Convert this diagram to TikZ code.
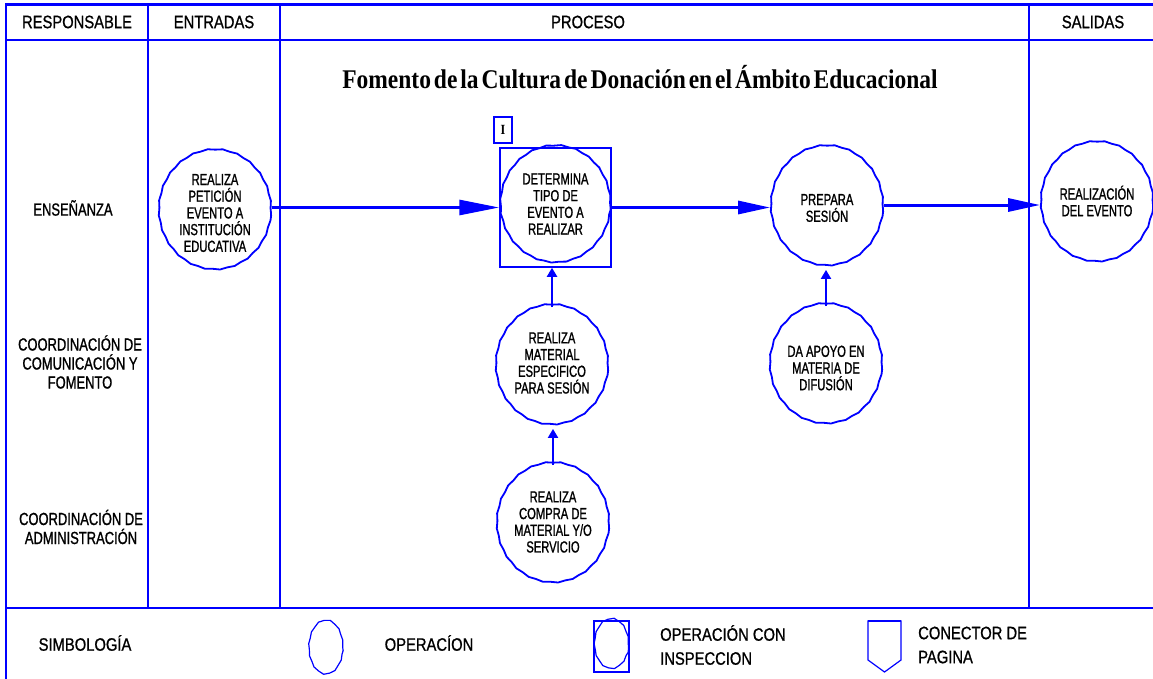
\documentclass[tikz,border=0pt]{standalone}
\usepackage{fontspec}
\setmainfont{Liberation Sans}
\newfontfamily\hdrfont[FakeStretch=0.82,FakeBold=0.9]{Liberation Sans}
\newfontfamily\lanefont[FakeStretch=0.74,FakeBold=1.1]{Liberation Sans}
\newfontfamily\opfont[FakeStretch=0.70,FakeBold=1.1]{Liberation Sans}
\newfontfamily\titlefont[FakeStretch=0.87,WordSpace=0.5]{Liberation Serif}
\usetikzlibrary{shapes.geometric,arrows.meta,decorations.pathmorphing}
\definecolor{lineblue}{RGB}{0,0,255}

\begin{document}
\begin{tikzpicture}[x=1pt,y=-1pt,
  frameline/.style={draw=lineblue, line width=2.2pt},
  colline/.style={draw=lineblue, line width=1.6pt},
  opnode/.style={ellipse, draw=lineblue, line width=1.8pt, minimum width=112pt,
    minimum height=120pt, inner sep=0pt, decorate,
    decoration={snake, segment length=15pt, amplitude=0.45pt}},
  optext/.style={align=center, inner sep=0pt,
    font=\opfont\fontsize{16}{16.7}\selectfont},
  hdrtext/.style={inner sep=0pt, font=\hdrfont\fontsize{18}{20}\selectfont},
  lanetext/.style={align=center, inner sep=0pt,
    font=\lanefont\fontsize{17.5}{19}\selectfont},
  legtext/.style={align=left, inner sep=0pt,
    font=\hdrfont\fontsize{18}{24}\selectfont},
  bigarrow/.style={draw=lineblue, line width=3pt,
    -{Triangle[length=40pt,width=15pt]}},
  midarrow/.style={draw=lineblue, line width=3pt,
    -{Triangle[length=32pt,width=13pt]}},
  smallarrow/.style={draw=lineblue, line width=2pt,
    -{Triangle[length=9pt,width=10pt]}}
]
\useasboundingbox (0,0) rectangle (1153,679);

% frame of the table
\draw[frameline] (5,4.5) -- (1153,4.5);
\draw[frameline] (5,40) -- (1153,40);
\draw[frameline] (6,3.5) -- (6,679);
\draw[frameline] (5,608) -- (1153,608);
\draw[colline] (148,4.5) -- (148,608);
\draw[colline] (280,4.5) -- (280,608);
\draw[colline] (1029,4.5) -- (1029,608);

% column headings
\node[hdrtext] (hresp) at (77,22) {RESPONSABLE};
\node[hdrtext] (hent) at (214,22) {ENTRADAS};
\node[hdrtext] (hproc) at (588,22) {PROCESO};
\node[hdrtext] (hsal) at (1093,22) {SALIDAS};

% title
\node[inner sep=0pt, font=\titlefont\bfseries\fontsize{27}{29}\selectfont]
  (title) at (640,77) {Fomento de la Cultura de Donación en el Ámbito Educacional};

% lanes
\node[lanetext] (lane1) at (73,208) {ENSEÑANZA};
\node[lanetext] (lane2) at (80,362) {COORDINACIÓN DE\\COMUNICACIÓN Y\\FOMENTO};
\node[lanetext] (lane3) at (81,527) {COORDINACIÓN DE\\ADMINISTRACIÓN};

% operations
\node[opnode] (n1) at (215,213) {};
\node[optext] at (n1) {REALIZA\\PETICIÓN\\EVENTO A\\INSTITUCIÓN\\EDUCATIVA};

\node[draw=lineblue, line width=1.5pt, minimum width=111pt, minimum height=119pt,
  inner sep=0pt] (n2box) at (555.5,207.5) {};
\node[opnode, minimum width=110pt, minimum height=117pt] (n2) at (555.5,207.5) {};
\node[optext] at (555.5,204) {DETERMINA\\TIPO DE\\EVENTO A\\REALIZAR};
\node[draw=lineblue, line width=1.3pt, minimum width=18pt, minimum height=26pt,
  inner sep=0pt, font=\titlefont\bfseries\fontsize{14}{14}\selectfont]
  (ibox) at (503,130) {I};

\node[opnode] (n3) at (827,209) {};
\node[optext] at (827,208) {PREPARA\\SESIÓN};

\node[opnode] (n4) at (1097,205) {};
\node[optext] at (1097,201) {REALIZACIÓN\\DEL EVENTO};

\node[opnode] (n5) at (552,368) {};
\node[optext] at (552,363) {REALIZA\\MATERIAL\\ESPECIFICO\\PARA SESIÓN};

\node[opnode] (n6) at (553,526) {};
\node[optext] at (553,522) {REALIZA\\COMPRA DE\\MATERIAL Y/O\\SERVICIO};

\node[opnode] (n7) at (826,367) {};
\node[optext] at (826,368) {DA APOYO EN\\MATERIA DE\\DIFUSIÓN};

% flow
\draw[bigarrow] (n1.east |- n2box.west) -- (n2box.west);
\draw[midarrow] (n2box.east) -- (n3.west |- n2box.east);
\draw[midarrow] (n3.east |- n4.west) -- (n4.west);
\draw[smallarrow] (n6.north) -- (n6.north |- n5.south);
\draw[smallarrow] (n5.north) -- (n5.north |- n2box.south);
\draw[smallarrow] (n7.north) -- (n7.north |- n3.south);

% legend
\node[legtext] (simb) at (85,643) {SIMBOLOGÍA};
\node[ellipse, draw=lineblue, line width=1.2pt, minimum width=34pt,
  minimum height=54pt, inner sep=0pt, decorate,
  decoration={snake, segment length=12pt, amplitude=0.35pt}] (legop) at (326,650) {};
\node[legtext] (legoptext) at (429,643) {OPERACÍON};
\node[draw=lineblue, line width=1.2pt, minimum width=35pt, minimum height=51pt,
  inner sep=0pt] (leginsp) at (611.5,646.5) {};
\node[ellipse, draw=lineblue, line width=1.2pt, minimum width=34pt,
  minimum height=50pt, inner sep=0pt, decorate,
  decoration={snake, segment length=12pt, amplitude=0.35pt}] at (leginsp) {};
\node[legtext, anchor=west] (leginsptext) at (660,645) {OPERACIÓN CON\\INSPECCION};
\draw[draw=lineblue, line width=1.2pt, line join=miter]
  (868,621) -- (901,621) -- (901,660) -- (884.5,672) -- (868,660) -- cycle;
\draw[draw=lineblue, line width=2.4pt] (868,621) -- (901,621);
\node[legtext, anchor=west] (legcontext) at (918,645) {CONECTOR DE\\PAGINA};
\end{tikzpicture}
\end{document}
